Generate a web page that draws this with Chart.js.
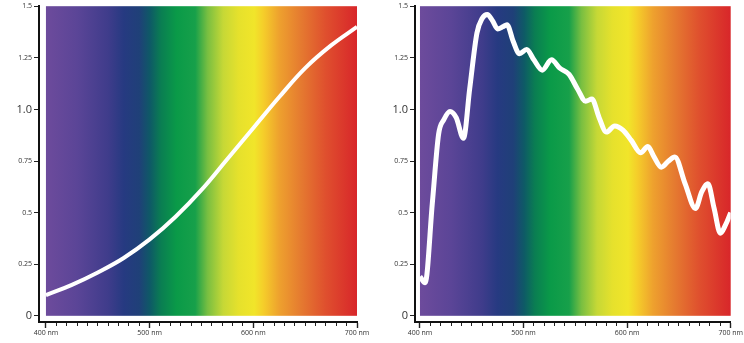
<!DOCTYPE html>
<html><head><meta charset="utf-8">
<script src="https://cdn.jsdelivr.net/npm/chart.js@4/dist/chart.umd.min.js"></script>
<style>
html,body{margin:0;padding:0;background:#fff;}
#wrap{position:relative;width:744px;height:343px;overflow:hidden;}
.c{position:absolute;top:0;width:372px;height:343px;}
</style></head><body>
<div id="wrap">
<div class="c" style="left:0"><canvas id="c1"></canvas></div>
<div class="c" style="left:372px"><canvas id="c2"></canvas></div>
</div>
<script>
// ---- data ----
const leftWavelengths = [400,425,450,475,500,525,550,575,600,625,650,675,700];
const leftValues      = [0.10,0.15,0.21,0.28,0.37,0.48,0.61,0.76,0.91,1.06,1.20,1.31,1.40];

const rightWavelengths = [400,405,412,418,423,429,435,442,448,455,460,465,470,475,480,484,490,496,503,510,518,527,535,544,552,560,566,573,580,588,596,604,613,620,626,633,640,646,656,666,672,678,684,690,695,700];
const rightValues      = [0.19,0.16,0.55,0.88,0.95,0.99,0.96,0.86,1.10,1.37,1.44,1.46,1.43,1.39,1.40,1.41,1.33,1.27,1.29,1.24,1.19,1.24,1.20,1.17,1.10,1.04,1.05,0.96,0.89,0.92,0.90,0.85,0.79,0.82,0.77,0.72,0.75,0.77,0.64,0.52,0.60,0.64,0.52,0.40,0.44,0.50];

const xMajorValues = [400,500,600,700];
const xTickLabels  = ['400 nm','500 nm','600 nm','700 nm'];
const xMinorStep   = 10;
const yTickValues  = [0,0.25,0.5,0.75,1.0,1.25,1.5];
const yTickLabels  = ['0','0.25','0.5','0.75','1.0','1.25','1.5'];
const yBigLabels   = ['0','1.0'];

// ---- style ----
const spectrumStops = [
  [0.00,'#6d4b9c'],[0.10,'#5b4597'],[0.20,'#3f3c8b'],[0.25,'#263a81'],
  [0.30,'#1f4078'],[0.335,'#0e5a66'],[0.37,'#0a7e52'],[0.42,'#0a9a48'],
  [0.48,'#17a04a'],[0.52,'#79bf41'],[0.57,'#c6d836'],[0.62,'#e6e12c'],
  [0.67,'#f1e52a'],[0.70,'#f5cd2a'],[0.75,'#eea12e'],[0.82,'#e57a30'],
  [0.90,'#df4f2e'],[1.00,'#d8262a']
];

const spectrumPlugin = {
  id:'spectrum',
  beforeDatasetsDraw(chart){
    const {ctx, scales:{x,y}} = chart;
    const x0=x.getPixelForValue(xMajorValues[0]), x1=x.getPixelForValue(xMajorValues[xMajorValues.length-1]);
    const y0=y.getPixelForValue(yTickValues[yTickValues.length-1]), y1=y.getPixelForValue(yTickValues[0]);
    const g=ctx.createLinearGradient(x0,0,x1,0);
    spectrumStops.forEach(([p,c])=>g.addColorStop(p,c));
    ctx.save(); ctx.fillStyle=g; ctx.fillRect(x0,y0,x1-x0,y1-y0); ctx.restore();
  }
};

const tv = c => (c && c.tick) ? c.tick.value : null;

function makeChart(id, xs, ys, opt){
  const minorTicks=[];
  for(let v=xMajorValues[0]; v<=xMajorValues[xMajorValues.length-1]; v+=xMinorStep) minorTicks.push(v);
  return new Chart(document.getElementById(id), {
    type:'line',
    data:{datasets:[{
      data: xs.map((x,i)=>({x:x,y:ys[i]})),
      borderColor:'#ffffff', borderWidth:opt.lw, pointRadius:0,
      tension:0.4, cubicInterpolationMode:opt.interp, fill:false
    }]},
    plugins:[spectrumPlugin],
    options:{
      responsive:true, maintainAspectRatio:false, animation:false, devicePixelRatio:1,
      layout:{padding:{top:6,right:opt.padR,left:0,bottom:0}},
      plugins:{legend:{display:false}, tooltip:{enabled:false}},
      scales:{
        x:{
          type:'linear', min:opt.xmin, max:700,
          afterBuildTicks:s=>{ s.ticks = minorTicks.map(v=>({value:v})); },
          afterFit:s=>{ s.height=21; },
          border:{display:true,color:'#111',width:2},
          grid:{display:true,drawOnChartArea:false,drawTicks:true,tickLength:6,
            tickColor:'#222',
            tickWidth:c=> xMajorValues.includes(tv(c)) ? 1.4 : 1,
            tickBorderDash:c=> xMajorValues.includes(tv(c)) ? [] : [3,20]},
          ticks:{autoSkip:false,maxRotation:0,padding:1,color:'#333',
            font:{family:'Open Sans',size:7},
            callback:v=>{const i=xMajorValues.indexOf(v); return i>=0?xTickLabels[i]:'';}}
        },
        y:{
          type:'linear', min:-0.03, max:1.5,
          afterBuildTicks:s=>{ s.ticks = yTickValues.map(v=>({value:v})); },
          afterFit:s=>{ s.width=opt.yw; },
          border:{display:true,color:'#111',width:2},
          grid:{display:true,drawOnChartArea:false,drawTicks:true,tickLength:5,tickColor:'#222',tickWidth:1},
          ticks:{padding:2,color:'#333',
            font:c=>{const i=yTickValues.indexOf(tv(c)); const big=i>=0&&yBigLabels.includes(yTickLabels[i]); return {family:'Open Sans',size:big?11:7};},
            callback:v=>{const i=yTickValues.indexOf(v); return i>=0?yTickLabels[i]:'';}}
        }
      }
    }
  });
}

makeChart('c1', leftWavelengths, leftValues, {lw:4, padR:15, xmin:393.3, yw:39, interp:'default'});
makeChart('c2', rightWavelengths, rightValues, {lw:5, padR:11, xmin:395.2, yw:43, interp:'monotone'});
</script>
</body></html>
